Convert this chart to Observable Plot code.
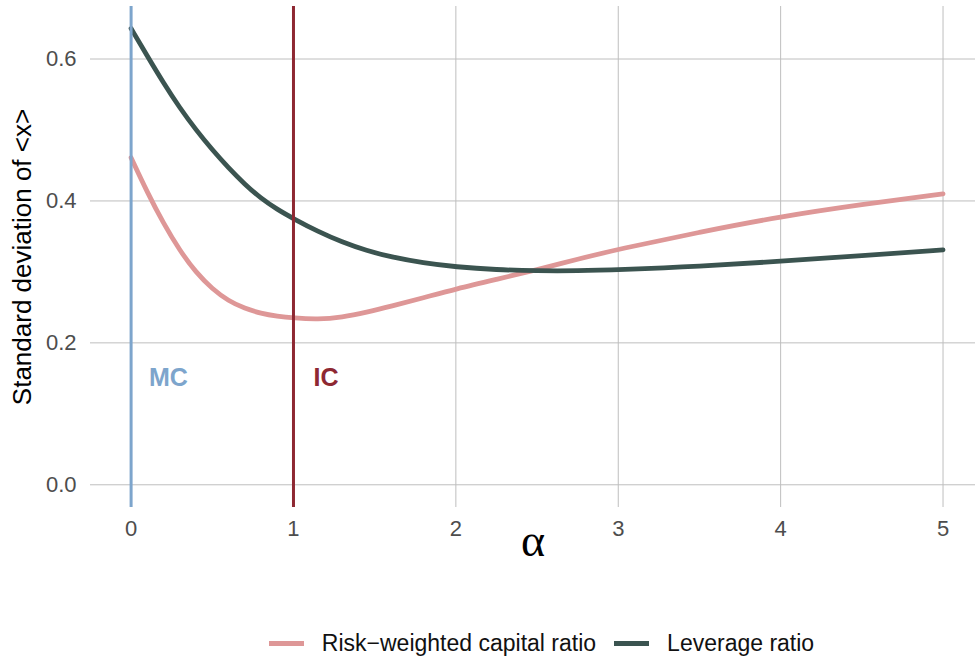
<!DOCTYPE html>
<html>
<head>
<meta charset="utf-8">
<script src="https://cdn.jsdelivr.net/npm/d3@7"></script>
<script src="https://cdn.jsdelivr.net/npm/@observablehq/plot@0.6"></script>
<style>
  body { margin: 0; background: #fff; font-family: "Liberation Sans", Arial, sans-serif; }
  #legend { display: flex; justify-content: center; align-items: center; padding-left: 108px; margin-top: 45px; height: 26px; font-size: 23px; color: #111; }
  .item { display: flex; align-items: center; margin: 0 9px; }
  .sw { width: 35px; height: 5px; margin-right: 18px; }
</style>
</head>
<body>
<div id="chart"></div>
<div id="legend"></div>
<script>
const alpha = [0, 0.1, 0.2, 0.3, 0.4, 0.5, 0.6, 0.7, 0.8, 0.9, 1.0, 1.15, 1.3, 1.45, 1.6, 1.8, 2.0, 2.25, 2.5, 2.75, 3, 3.5, 4, 4.5, 5];
const riskWeighted = [0.461, 0.412, 0.368, 0.330, 0.299, 0.276, 0.259, 0.2485, 0.2415, 0.2375, 0.235, 0.233, 0.236, 0.243, 0.2515, 0.2635, 0.276, 0.2895, 0.303, 0.318, 0.332, 0.356, 0.378, 0.395, 0.410];
const leverage = [0.643, 0.604, 0.566, 0.531, 0.500, 0.472, 0.4465, 0.4235, 0.4035, 0.388, 0.375, 0.357, 0.342, 0.330, 0.321, 0.3125, 0.307, 0.303, 0.3015, 0.3015, 0.303, 0.3075, 0.315, 0.323, 0.331];
const seriesNames = ["Risk\u2212weighted capital ratio", "Leverage ratio"];
const seriesColors = ["#DE9797", "#3B5450"];
const markerLabels = ["MC", "IC"];
const markerAlpha = [0, 1];
const markerLabelAlpha = [0.23, 1.2];
const markerLabelY = 0.15;
const markerColors = ["#7DA5CC", "#8E2832"];
const xTicks = [0, 1, 2, 3, 4, 5];
const yTicks = [0, 0.2, 0.4, 0.6];

const rows = [];
alpha.forEach((a, i) => {
  rows.push({alpha: a, value: riskWeighted[i], series: seriesNames[0]});
  rows.push({alpha: a, value: leverage[i], series: seriesNames[1]});
});
const markers = markerLabels.map((m, i) => ({label: m, alpha: markerAlpha[i], lx: markerLabelAlpha[i], color: markerColors[i]}));

const chart = Plot.plot({
  width: 975,
  height: 585,
  marginLeft: 90,
  marginRight: 0,
  marginTop: 6,
  marginBottom: 78,
  style: {fontFamily: "Liberation Sans, Arial, sans-serif", background: "#fff"},
  x: {domain: [-0.25, 5.2]},
  y: {domain: [-0.032, 0.674]},
  color: {domain: seriesNames, range: seriesColors},
  marks: [
    Plot.gridX(xTicks, {stroke: "#BEBEBE", strokeOpacity: 1, strokeWidth: 1}),
    Plot.gridY(yTicks, {stroke: "#BEBEBE", strokeOpacity: 1, strokeWidth: 1}),
    Plot.axisX(xTicks, {tickSize: 0, tickPadding: 13, fontSize: 22, fill: "#4D4D4D", label: null, tickFormat: d3.format("d")}),
    Plot.axisY(yTicks, {tickSize: 0, tickPadding: 14, fontSize: 22, fill: "#4D4D4D", label: null, tickFormat: d3.format(".1f")}),
    Plot.line(rows, {x: "alpha", y: "value", z: "series", stroke: "series", strokeWidth: 4.8, curve: "basis"}),
    Plot.ruleX(markers, {x: "alpha", stroke: "color", strokeWidth: 3}),
    Plot.text(markers, {x: "lx", y: () => markerLabelY, text: "label", fill: "color", fontSize: 25, fontWeight: "bold"}),
    Plot.text(["α"], {frameAnchor: "bottom", dy: 48, text: d => d, fontSize: 46, fontFamily: "Liberation Serif, serif", fill: "#000"}),
    Plot.text(["Standard deviation of <x>"], {frameAnchor: "left", dx: -68, rotate: -90, textAnchor: "middle", text: d => d, fontSize: 26, fill: "#000"})
  ]
});
document.getElementById("chart").append(chart);

const legend = document.getElementById("legend");
seriesNames.forEach((n, i) => {
  const it = document.createElement("div");
  it.className = "item";
  const sw = document.createElement("div");
  sw.className = "sw";
  sw.style.background = seriesColors[i];
  const tx = document.createElement("span");
  tx.textContent = n;
  it.append(sw, tx);
  legend.append(it);
});
</script>
</body>
</html>
